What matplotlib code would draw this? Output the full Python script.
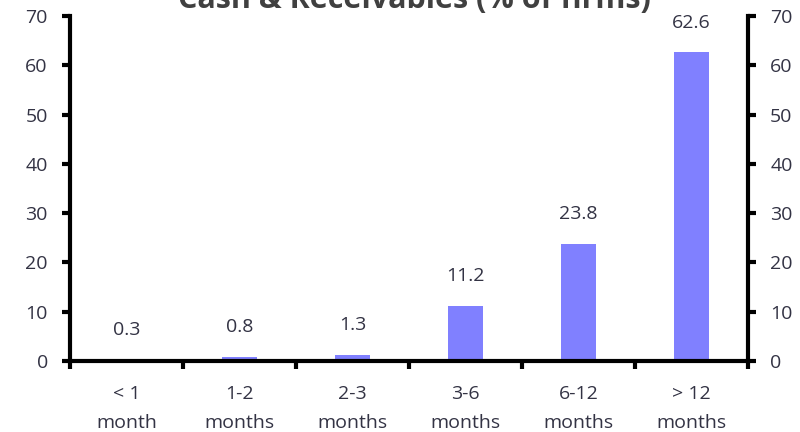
import numpy as np
import matplotlib
matplotlib.use("Agg")
import matplotlib.pyplot as plt

categories = ["< 1\nmonth", "1-2\nmonths", "2-3\nmonths", "3-6\nmonths", "6-12\nmonths", "> 12\nmonths"]
values = [0.3, 0.8, 1.3, 11.2, 23.8, 62.6]
value_labels = ["0.3", "0.8", "1.3", "11.2", "23.8", "62.6"]
yticks = [0, 10, 20, 30, 40, 50, 60, 70]

plt.rcParams['font.family'] = ['Open Sans', 'DejaVu Sans']
txt = '#333344'

fig = plt.figure(figsize=(8, 4.32), dpi=100)
ax = fig.add_axes([0.0875, 0.1644, 0.8475, 0.7986])

x = np.arange(len(values))
ax.bar(x, values, width=0.31, color='#8080ff')

# value labels above bars
for xi, v, lab in zip(x, values, value_labels):
    ax.text(xi, v + 6, lab, ha='center', va='center', fontsize=14, color=txt)

ax.set_xlim(-0.5, len(values) - 0.5)
ax.set_ylim(0, 70)

# x: labels at centres, ticks at boundaries
ax.set_xticks(x)
ax.set_xticklabels(categories, fontsize=14, color=txt, linespacing=1.78)
ax.tick_params(axis='x', which='major', length=0, pad=17)
ax.set_xticks(np.arange(-0.5, len(values)), minor=True)
ax.tick_params(axis='x', which='minor', direction='out', length=6, width=3)

ax.set_yticks(yticks)
ax.tick_params(axis='y', direction='out', length=6, width=3, labelsize=14,
               labelcolor=txt, pad=10, right=True, labelright=True)

for s in ['left', 'right', 'bottom']:
    ax.spines[s].set_linewidth(3)
ax.spines['top'].set_visible(False)

fig.text(0.5175, 1.0, "Cash & Receivables (% of firms)", ha='center', va='center',
         fontsize=22, fontweight='bold', color='#404040')

fig.savefig("out.png", dpi=100)
